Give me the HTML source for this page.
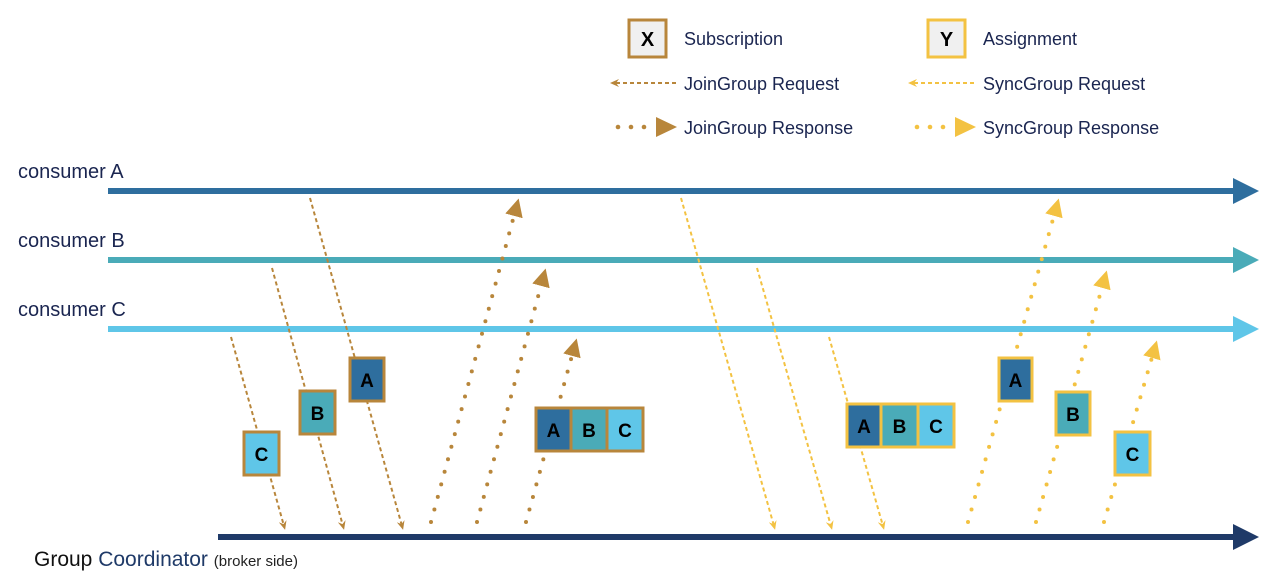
<!DOCTYPE html>
<html><head><meta charset="utf-8">
<style>
html,body{margin:0;padding:0;background:#fff;}
svg{display:block;}
text{font-family:"Liberation Sans",sans-serif;}
</style></head><body>
<svg width="1280" height="576" viewBox="0 0 1280 576" xmlns="http://www.w3.org/2000/svg">
<defs>
<marker id="jr" markerWidth="10" markerHeight="10" refX="5" refY="5" orient="auto" markerUnits="userSpaceOnUse"><path d="M0,1 L9,5 L0,9 L3,5 Z" fill="#b8863b"/></marker>
<marker id="sr" markerWidth="10" markerHeight="10" refX="5" refY="5" orient="auto" markerUnits="userSpaceOnUse"><path d="M0,1 L9,5 L0,9 L3,5 Z" fill="#f3c242"/></marker>
<marker id="jp" markerWidth="20" markerHeight="20" refX="4" refY="10" orient="auto" markerUnits="userSpaceOnUse"><path d="M0,1 L18,10 L0,19 Z" fill="#b8863b"/></marker>
<marker id="sp" markerWidth="20" markerHeight="20" refX="4" refY="10" orient="auto" markerUnits="userSpaceOnUse"><path d="M0,1 L18,10 L0,19 Z" fill="#f3c242"/></marker>
</defs>

<!-- Legend -->
<rect x="629" y="20" width="37" height="37" fill="#f0f0f0" stroke="#b8863b" stroke-width="3"/>
<text x="647.5" y="46" text-anchor="middle" font-size="20" font-weight="bold" fill="#000">X</text>
<text x="684" y="45" font-size="18" fill="#1a2550">Subscription</text>
<rect x="928" y="20" width="37" height="37" fill="#f0f0f0" stroke="#f3c242" stroke-width="3"/>
<text x="946.5" y="46" text-anchor="middle" font-size="20" font-weight="bold" fill="#000">Y</text>
<text x="983" y="45" font-size="18" fill="#1a2550">Assignment</text>

<line x1="676" y1="83" x2="614" y2="83" stroke="#b8863b" stroke-width="2" stroke-dasharray="4,3" marker-end="url(#jr)"/>
<text x="684" y="90" font-size="18" fill="#1a2550">JoinGroup Request</text>
<line x1="974" y1="83" x2="912" y2="83" stroke="#f3c242" stroke-width="2" stroke-dasharray="4,3" marker-end="url(#sr)"/>
<text x="983" y="90" font-size="18" fill="#1a2550">SyncGroup Request</text>

<g fill="#b8863b"><circle cx="618" cy="127" r="2.3"/><circle cx="631" cy="127" r="2.3"/><circle cx="644" cy="127" r="2.3"/><path d="M656,117 L677,127 L656,137 Z"/></g>
<text x="684" y="134" font-size="18" fill="#1a2550">JoinGroup Response</text>
<g fill="#f3c242"><circle cx="917" cy="127" r="2.3"/><circle cx="930" cy="127" r="2.3"/><circle cx="943" cy="127" r="2.3"/><path d="M955,117 L976,127 L955,137 Z"/></g>
<text x="983" y="134" font-size="18" fill="#1a2550">SyncGroup Response</text>

<!-- consumer lines -->
<text x="18" y="178" font-size="20" fill="#1a2550">consumer A</text>
<text x="18" y="247" font-size="20" fill="#1a2550">consumer B</text>
<text x="18" y="316" font-size="20" fill="#1a2550">consumer C</text>
<g>
<rect x="108" y="188" width="1128" height="6" fill="#2e6e9e"/><path d="M1233,178 L1259,191 L1233,204 Z" fill="#2e6e9e"/>
<rect x="108" y="257" width="1128" height="6" fill="#4aabb8"/><path d="M1233,247 L1259,260 L1233,273 Z" fill="#4aabb8"/>
<rect x="108" y="326" width="1128" height="6" fill="#5fc6e8"/><path d="M1233,316 L1259,329 L1233,342 Z" fill="#5fc6e8"/>
<rect x="218" y="534" width="1018" height="6" fill="#1f3a68"/><path d="M1233,524 L1259,537 L1233,550 Z" fill="#1f3a68"/>
</g>
<text x="34" y="566" font-size="21" fill="#111">Group <tspan fill="#1f3a68">Coordinator</tspan> <tspan font-size="15" fill="#222">(broker side)</tspan></text>

<!-- Join requests -->
<g stroke="#b8863b" stroke-width="2" stroke-dasharray="4,3" fill="none">
<line x1="310" y1="198" x2="402" y2="526" marker-end="url(#jr)"/>
<line x1="272" y1="268" x2="343" y2="526" marker-end="url(#jr)"/>
<line x1="231" y1="337" x2="284" y2="526" marker-end="url(#jr)"/>
</g>
<!-- Join responses -->
<g stroke="#b8863b" stroke-width="4" stroke-linecap="round" stroke-dasharray="0,13" fill="none">
<line x1="431" y1="522" x2="515" y2="212" marker-end="url(#jp)"/>
<line x1="477" y1="522" x2="542" y2="282" marker-end="url(#jp)"/>
<line x1="526" y1="522" x2="573" y2="352" marker-end="url(#jp)"/>
</g>
<!-- Sync requests -->
<g stroke="#f3c242" stroke-width="2" stroke-dasharray="4,3" fill="none">
<line x1="681" y1="198" x2="774" y2="526" marker-end="url(#sr)"/>
<line x1="757" y1="268" x2="831" y2="526" marker-end="url(#sr)"/>
<line x1="829" y1="337" x2="883" y2="526" marker-end="url(#sr)"/>
</g>
<!-- Sync responses -->
<g stroke="#f3c242" stroke-width="4" stroke-linecap="round" stroke-dasharray="0,13" fill="none">
<line x1="968" y1="522" x2="1055" y2="212" marker-end="url(#sp)"/>
<line x1="1036" y1="522" x2="1103" y2="284" marker-end="url(#sp)"/>
<line x1="1104" y1="522" x2="1153" y2="354" marker-end="url(#sp)"/>
</g>

<!-- Subscription boxes -->
<g stroke="#b8863b" stroke-width="3">
<rect x="350" y="358" width="34" height="43" fill="#2e6e9e"/>
<rect x="300" y="391" width="35" height="43" fill="#4aabb8"/>
<rect x="244" y="432" width="35" height="43" fill="#5fc6e8"/>
<rect x="536" y="408" width="35" height="43" fill="#2e6e9e"/>
<rect x="571" y="408" width="36" height="43" fill="#4aabb8"/>
<rect x="607" y="408" width="36" height="43" fill="#5fc6e8"/>
</g>
<g font-size="19" font-weight="bold" text-anchor="middle" fill="#000">
<text x="367" y="387">A</text><text x="317.5" y="420">B</text><text x="261.5" y="461">C</text>
<text x="553.5" y="437">A</text><text x="589" y="437">B</text><text x="625" y="437">C</text>
</g>

<!-- Assignment boxes -->
<g stroke="#f3c242" stroke-width="3">
<rect x="847" y="404" width="34" height="43" fill="#2e6e9e"/>
<rect x="881" y="404" width="37" height="43" fill="#4aabb8"/>
<rect x="918" y="404" width="36" height="43" fill="#5fc6e8"/>
<rect x="999" y="358" width="33" height="43" fill="#2e6e9e"/>
<rect x="1056" y="392" width="34" height="43" fill="#4aabb8"/>
<rect x="1115" y="432" width="35" height="43" fill="#5fc6e8"/>
</g>
<g font-size="19" font-weight="bold" text-anchor="middle" fill="#000">
<text x="864" y="433">A</text><text x="899.5" y="433">B</text><text x="936" y="433">C</text>
<text x="1015.5" y="387">A</text><text x="1073" y="421">B</text><text x="1132.5" y="461">C</text>
</g>
</svg>
</body></html>
